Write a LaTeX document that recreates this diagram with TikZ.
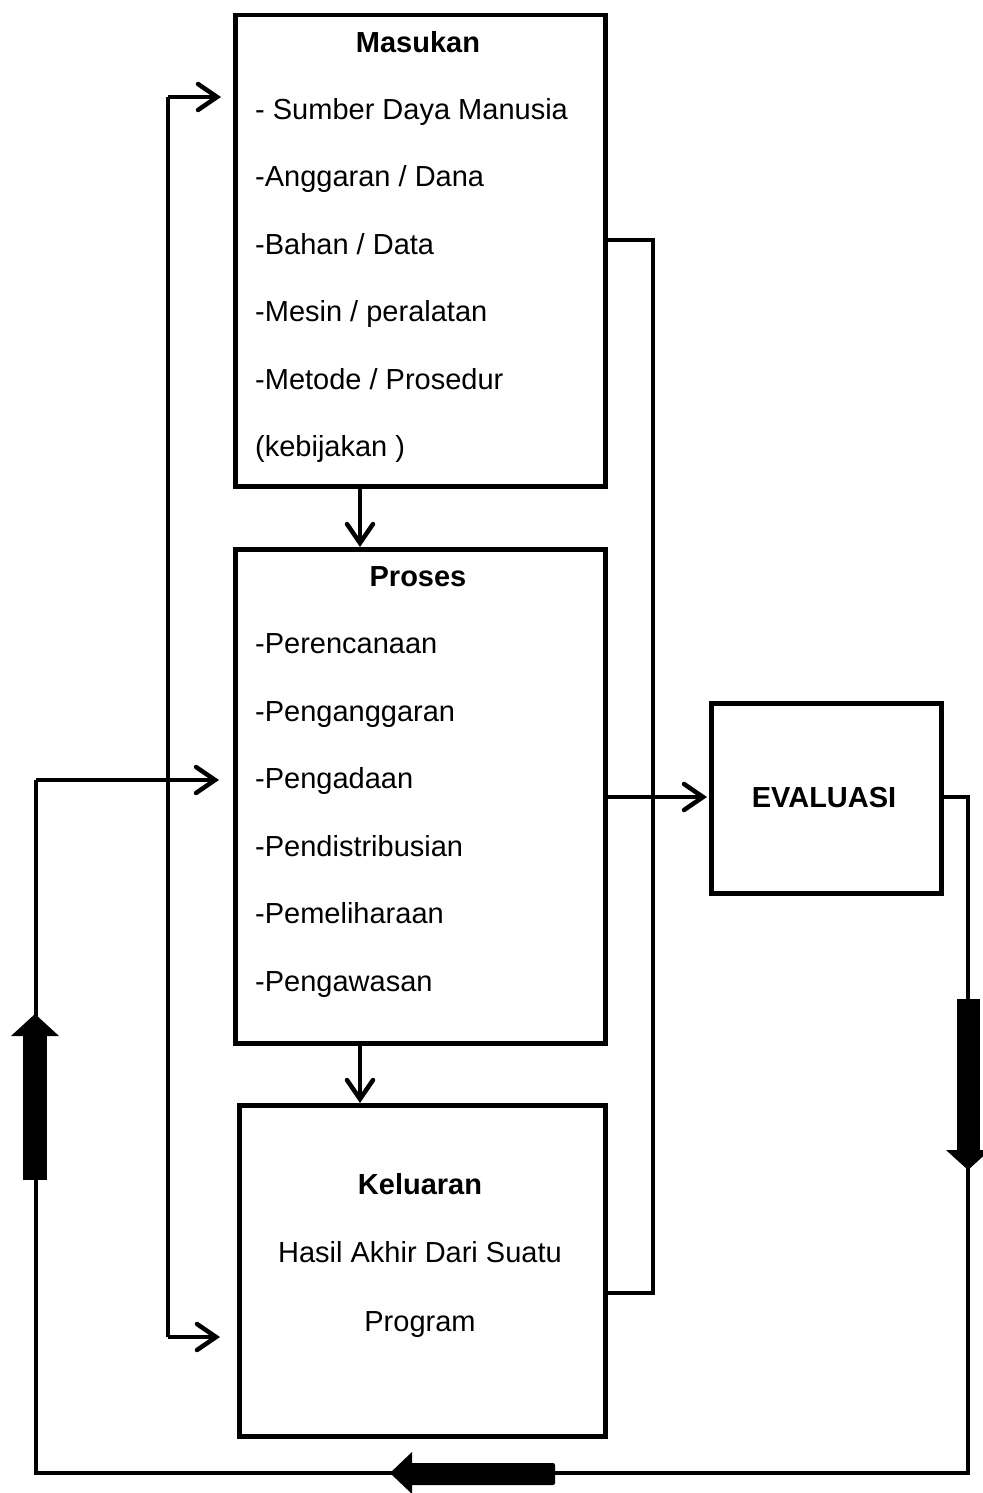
\documentclass[tikz,border=0pt]{standalone}
\usepackage{fontspec}
\setmainfont{Liberation Sans}
\usetikzlibrary{arrows.meta}
\begin{document}
\begin{tikzpicture}[x=1pt,y=-1pt,
  box/.style={draw, line width=4.5pt, anchor=north west, inner sep=0pt},
  txt/.style={anchor=base west, inner sep=0pt, font=\fontsize{29}{35}\selectfont},
  ttl/.style={anchor=base, inner sep=0pt, font=\fontsize{29}{35}\selectfont\bfseries},
  ctr/.style={anchor=base, inner sep=0pt, font=\fontsize{29}{35}\selectfont},
  wire/.style={line width=4.5pt},
  arr/.style={line width=4.5pt, -{Straight Barb[length=19pt,width=26pt,line cap=round]}},
  thick arrow/.style={fill=black}]
\useasboundingbox (0,0) rectangle (982,1493);

% boxes
\node[box, minimum width=370pt, minimum height=471pt] (m) at (233,13) {};
\node[box, minimum width=370pt, minimum height=494pt] (p) at (233,547) {};
\node[box, minimum width=366pt, minimum height=331pt] (k) at (237,1103) {};
\node[box, minimum width=230pt, minimum height=190pt] (e) at (709,701) {};

% Masukan text
\node[ttl] (mt) at (418,52.5) {Masukan};
\node[txt] (m1) at (255,119.5) {- Sumber Daya Manusia};
\node[txt] (m2) at (255,186.5) {-Anggaran / Dana};
\node[txt] (m3) at (255,254.5) {-Bahan / Data};
\node[txt] (m4) at (255,321.5) {-Mesin / peralatan};
\node[txt] (m5) at (255,389.5) {-Metode / Prosedur};
\node[txt] (m6) at (255,456.5) {(kebijakan )};

% Proses text
\node[ttl] (pt) at (418,586.5) {Proses};
\node[txt] (p1) at (255,653.5) {-Perencanaan};
\node[txt] (p2) at (255,721.5) {-Penganggaran};
\node[txt] (p3) at (255,788.5) {-Pengadaan};
\node[txt] (p4) at (255,856.5) {-Pendistribusian};
\node[txt] (p5) at (255,923.5) {-Pemeliharaan};
\node[txt] (p6) at (255,991.5) {-Pengawasan};

% Keluaran text
\node[ttl] (kt) at (420,1194.5) {Keluaran};
\node[ctr] (k1) at (420,1262.5) {Hasil Akhir Dari Suatu};
\node[ctr] (k2) at (420,1331.5) {Program};

% Evaluasi text
\node[ttl] (et) at (824,807.5) {EVALUASI};

% coordinates
\coordinate (Lt) at (168,97);
\coordinate (Lb) at (168,1337);
\coordinate (Lo) at (36,780);
\coordinate (Lbl) at (36,1473);
\coordinate (Lbr) at (968,1473);
\coordinate (Er) at (968,797);
\coordinate (Rt) at (653,240);
\coordinate (Rb) at (653,1293);
\coordinate (Pe) at (608,797);

% left inner line with arrows to Masukan and Keluaran
\draw[wire, line join=miter] (Lb) -- (Lt);
\draw[arr, shorten >=12pt] (Lt) -- (m.west |- Lt);
\draw[arr, shorten >=17pt] (Lb) -- (k.west |- Lb);

% outer feedback loop
\draw[wire, line join=miter] (e.east |- Er) -- (Er) -- (Lbr) -- (Lbl) -- (Lo);
\draw[arr, shorten >=14pt] (Lo) -- (p.west |- Lo);

% right connector Masukan -> Keluaran
\draw[wire, line join=miter] (m.east |- Rt) -- (Rt) -- (Rb) -- (k.east |- Rb);

% Proses -> Evaluasi
\draw[arr, shorten >=2pt] (p.east |- Pe) -- (e.west |- Pe);

% vertical arrows between boxes
\draw[arr] (m.south -| 360,0) -- (p.north -| 360,0);
\draw[arr] (p.south -| 360,0) -- (k.north -| 360,0);

% thick block arrows
\fill[thick arrow] (23,1180) rectangle (47,1036);
\fill[thick arrow] (11,1036) -- (59,1036) -- (35,1014) -- cycle;
\fill[thick arrow] (957,999) rectangle (980,1150);
\fill[thick arrow] (946,1150) -- (990,1150) -- (968,1170) -- cycle;
\fill[thick arrow, rounded corners=2pt] (410,1463) rectangle (555,1485);
\fill[thick arrow] (390,1473) -- (412,1452) -- (412,1494) -- cycle;
\end{tikzpicture}
\end{document}
